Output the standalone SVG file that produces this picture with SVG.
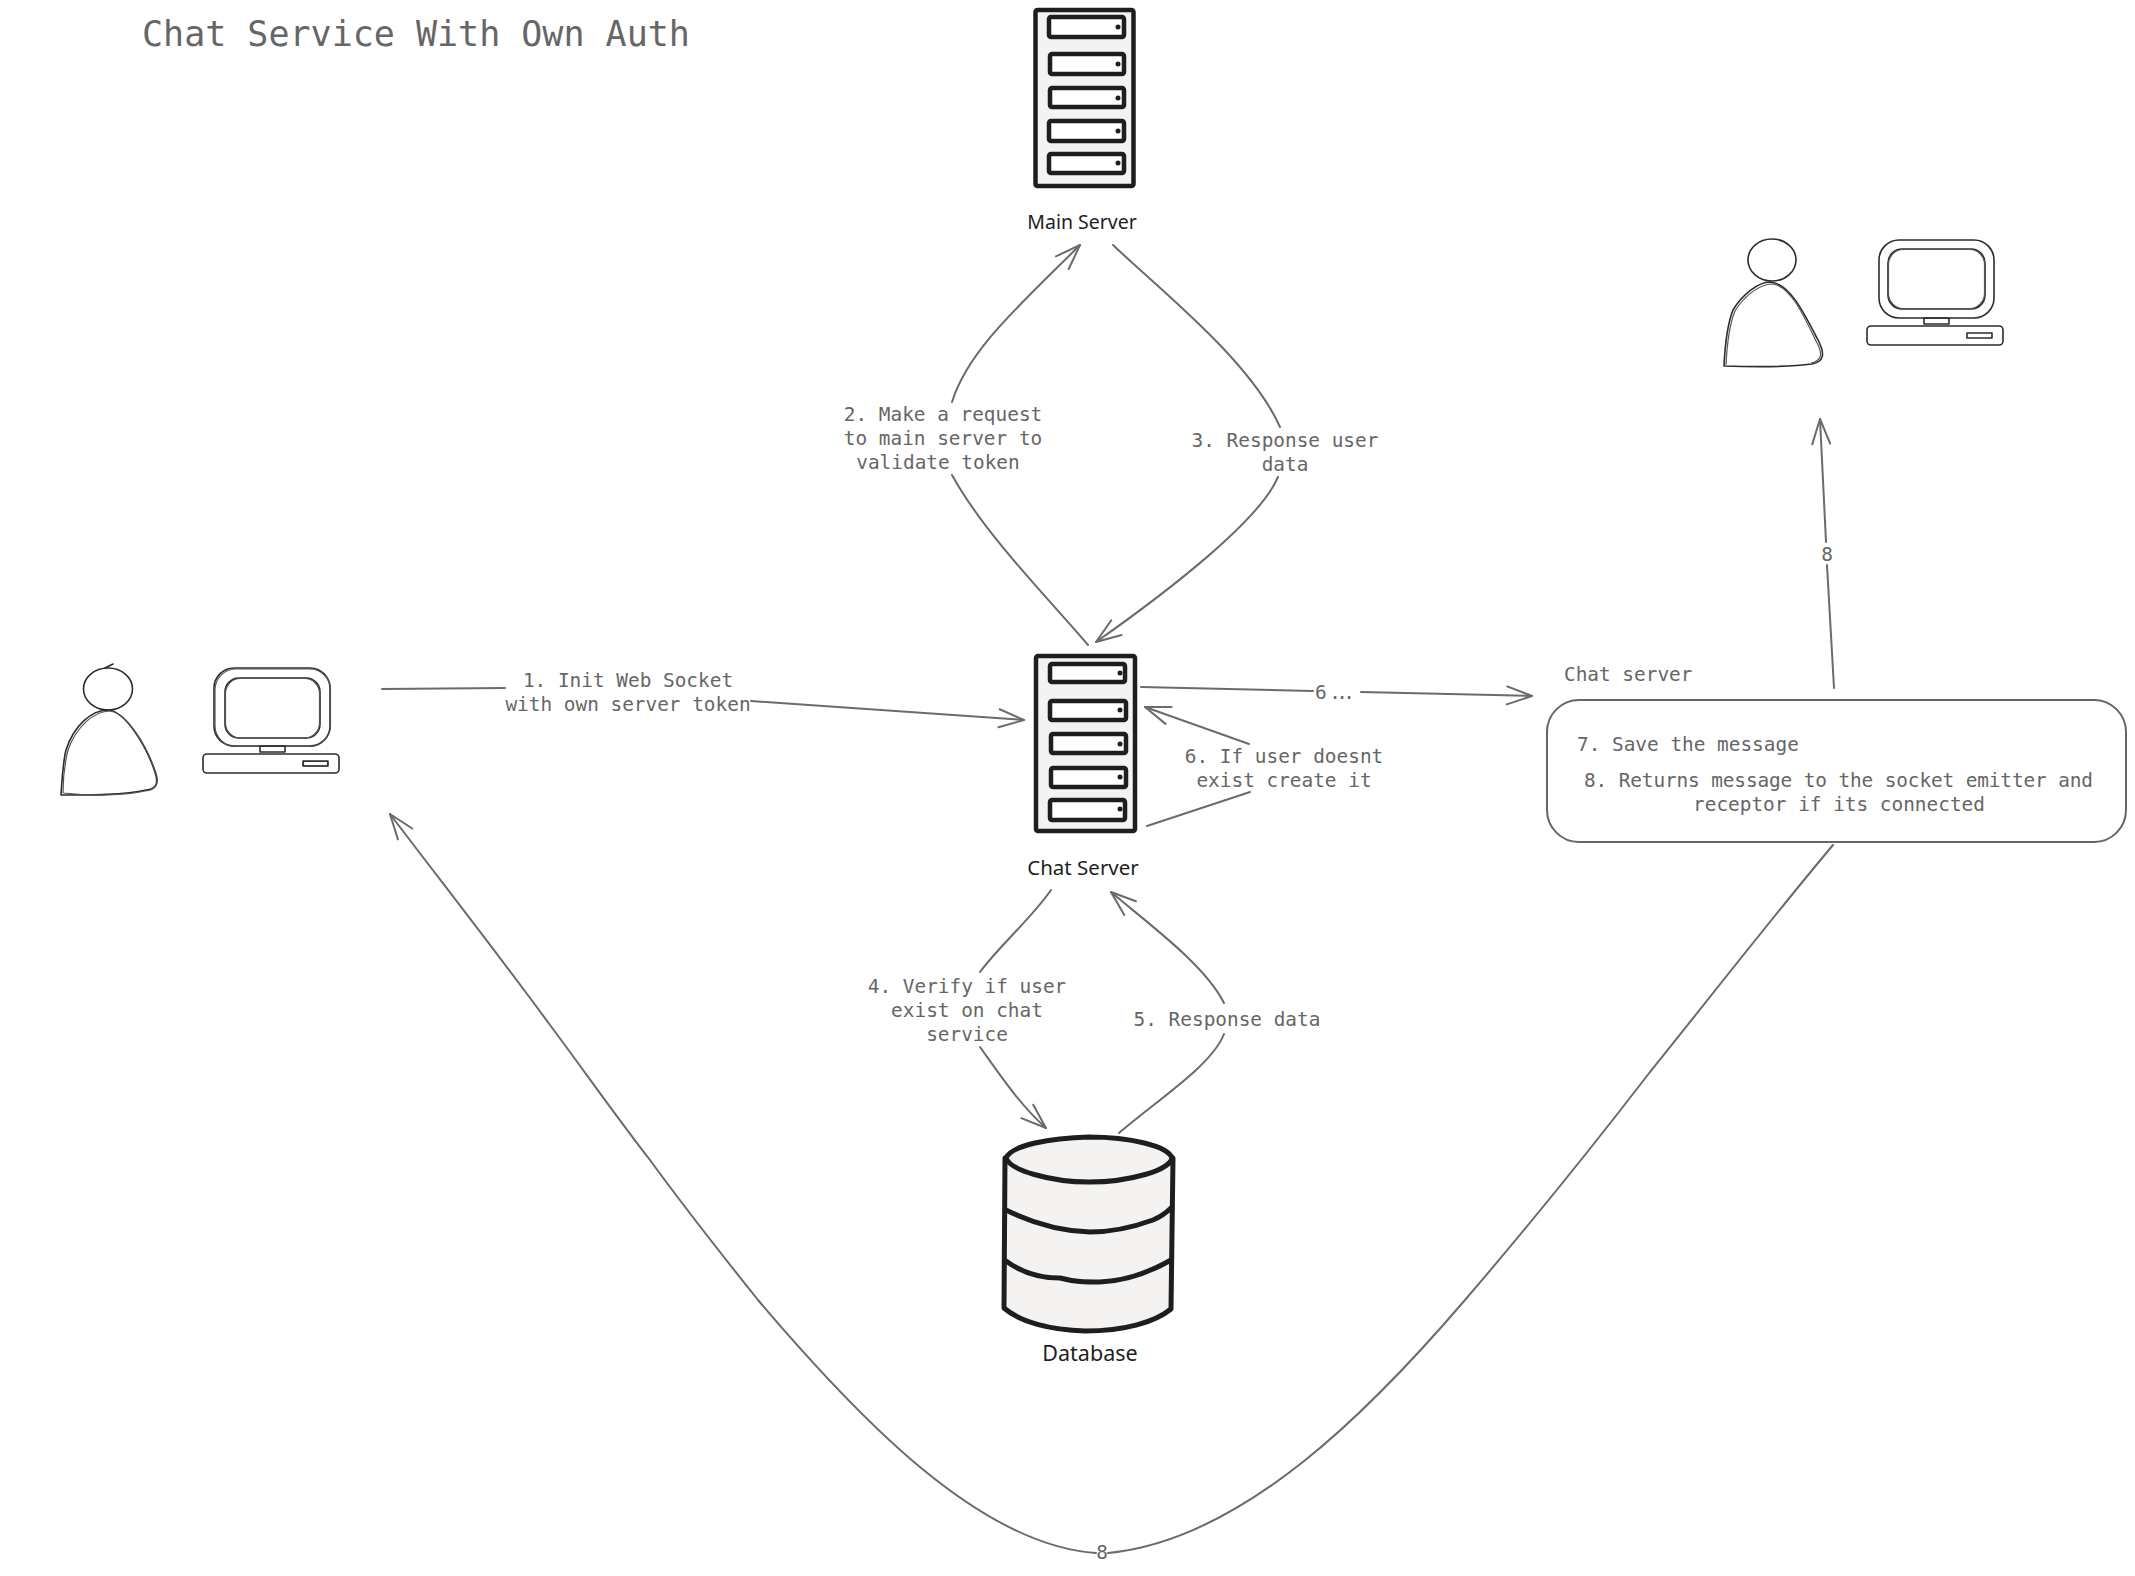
<svg xmlns="http://www.w3.org/2000/svg" width="2135" height="1576" viewBox="0 0 2135 1576">
<style>
.bg{fill:#fff}
.t{font-family:"DejaVu Sans Mono","Liberation Mono",monospace;font-size:19.4px;fill:#666;text-anchor:middle}
.tl{text-anchor:start}
.title{font-family:"DejaVu Sans Mono","Liberation Mono",monospace;font-size:35px;fill:#666}
.h{font-family:"Noto Sans","Liberation Sans",sans-serif;font-size:20.5px;fill:#1e1e1e;text-anchor:middle}
.c{fill:none;stroke:#6b6b6b;stroke-width:2;stroke-linecap:round}
.a{marker-end:url(#arr)}
.box{fill:none;stroke:#666;stroke-width:2}
.srv{fill:#f4f3f2;stroke:#1e1e1e;stroke-width:4.5;stroke-linejoin:round}
.slot{fill:#fff;stroke:#1e1e1e;stroke-width:4.5;stroke-linejoin:round}
.dot{fill:#1e1e1e}
.db{fill:#f4f3f2;stroke:#1e1e1e;stroke-width:5;stroke-linejoin:round}
.dbl{fill:none;stroke:#1e1e1e;stroke-width:5;stroke-linecap:round}
.s{fill:none;stroke:#2c2c2c;stroke-width:1.6;stroke-linejoin:round;stroke-linecap:round}
.s2{fill:none;stroke:#555;stroke-width:1.2;stroke-linejoin:round}
</style>
<defs>
<marker id="arr" markerUnits="userSpaceOnUse" markerWidth="34" markerHeight="34" refX="30" refY="17" orient="auto" overflow="visible">
<path d="M5 8 L30 17 L5 26" fill="none" stroke="#6b6b6b" stroke-width="2" stroke-linecap="round" stroke-linejoin="round"/>
</marker>
</defs>
<rect class="bg" width="2135" height="1576"/>
<text id="title" class="title" x="142" y="46">Chat Service With Own Auth</text>

<g id="connectors">
<path class="c" d="M382 689 L505 688"/>
<path class="c a" d="M751 701 L1024 720"/>
<path class="c" d="M1088 645 C1050 600 985 535 952 475"/>
<path class="c a" d="M952 402 C968 350 1020 305 1080 245"/>
<path class="c" d="M1113 245 C1160 290 1250 360 1280 427"/>
<path class="c a" d="M1278 477 C1260 520 1170 590 1096 642"/>
<path class="c" d="M1141 687 L1313 691"/>
<path class="c a" d="M1361 692 L1532 696"/>
<path class="c" d="M1147 826 L1250 792"/>
<path class="c a" d="M1249 744 L1145 707"/>
<path class="c" d="M1051 890 C1030 920 1000 945 980 972"/>
<path class="c a" d="M980 1047 C1000 1075 1020 1105 1046 1128"/>
<path class="c" d="M1119 1133 C1160 1098 1212 1065 1224 1034"/>
<path class="c a" d="M1224 1003 C1205 965 1150 925 1111 892"/>
<path class="c" d="M1834 688 L1827 565"/>
<path class="c a" d="M1826 542 L1820 419"/>
<path class="c" d="M1833 845 C1770 920 1700 1010 1650 1072 C1590 1150 1525 1230 1465 1300 C1375 1405 1245 1540 1108 1553"/>
<path class="c a" d="M1096 1553 C980 1545 860 1420 758 1300 C722 1255 690 1215 650 1160 C615 1115 580 1065 550 1025 C495 950 440 880 390 814"/>
</g>

<g id="labels">
<text class="t" x="628" y="687">1. Init Web Socket</text>
<text class="t" x="628" y="711">with own server token</text>
<text class="t" x="943" y="421">2. Make a request</text>
<text class="t" x="943" y="445">to main server to</text>
<text class="t" x="938" y="469">validate token</text>
<text class="t" x="1285" y="447">3. Response user</text>
<text class="t" x="1285" y="471">data</text>
<text class="t tl" x="1315" y="699" textLength="40">6 ...</text>
<text class="t" x="1284" y="763">6. If user doesnt</text>
<text class="t" x="1284" y="787">exist create it</text>
<text class="t" x="967" y="993">4. Verify if user</text>
<text class="t" x="967" y="1017">exist on chat</text>
<text class="t" x="967" y="1041">service</text>
<text class="t" x="1227" y="1026">5. Response data</text>
<text class="t" x="1827" y="561">8</text>
<text class="t" x="1102" y="1559">8</text>
</g>

<g id="main-server">
<rect class="srv" x="1035.5" y="10" width="98" height="176" rx="2"/>
<rect class="slot" x="1049" y="17" width="75" height="20" rx="2"/>
<rect class="slot" x="1050" y="54" width="74" height="20" rx="2"/>
<rect class="slot" x="1050" y="88" width="74" height="19" rx="2"/>
<rect class="slot" x="1049" y="121" width="75" height="20" rx="2"/>
<rect class="slot" x="1049" y="154" width="75" height="19" rx="2"/>
<circle class="dot" cx="1118" cy="27" r="2.5"/><circle class="dot" cx="1118" cy="64" r="2.5"/><circle class="dot" cx="1118" cy="98" r="2.5"/><circle class="dot" cx="1118" cy="131" r="2.5"/><circle class="dot" cx="1118" cy="163" r="2.5"/>
<text class="h" x="1082" y="229" style="font-size:19.500px">Main Server</text>
</g>

<g id="chat-server">
<rect class="srv" x="1036" y="656" width="99" height="175" rx="2"/>
<rect class="slot" x="1050" y="664" width="75" height="18" rx="2"/>
<rect class="slot" x="1050" y="701" width="76" height="19" rx="2"/>
<rect class="slot" x="1051" y="734" width="75" height="19" rx="2"/>
<rect class="slot" x="1051" y="768" width="75" height="19" rx="2"/>
<rect class="slot" x="1050" y="800" width="75" height="20" rx="2"/>
<circle class="dot" cx="1120" cy="673" r="2.5"/><circle class="dot" cx="1120" cy="710" r="2.5"/><circle class="dot" cx="1120" cy="744" r="2.5"/><circle class="dot" cx="1120" cy="777" r="2.5"/><circle class="dot" cx="1120" cy="809" r="2.5"/>
<text class="h" x="1083" y="875">Chat Server</text>
</g>

<g id="database">
<path class="db" d="M1005 1158 L1004 1308 C1020 1322 1050 1330 1085 1331 C1125 1331 1155 1322 1171 1309 L1173 1158 Z"/>
<path class="db" d="M1006 1158 C1012 1145 1050 1138 1089 1137 C1130 1137 1168 1146 1172 1158 C1170 1170 1130 1182 1089 1182 C1050 1182 1010 1170 1006 1158 Z"/>
<path class="dbl" d="M1006 1210 C1030 1222 1060 1231 1090 1232 C1120 1232 1142 1224 1153 1220 C1160 1217 1165 1214 1171 1208"/>
<path class="dbl" d="M1006 1261 C1025 1275 1045 1278 1060 1278 C1075 1282 1085 1282 1100 1282 C1125 1281 1150 1272 1171 1260"/>
<text class="h" x="1090" y="1361" style="font-size:21.5px">Database</text>
</g>

<g id="user-left">
<ellipse class="s" cx="108" cy="689" rx="24.5" ry="21"/>
<path class="s" d="M105 668 L113 664"/>
<path class="s" d="M61 795 C62 780 63 762 66 750 C74 725 92 710 108 710 C125 711 146 745 155 772 C159 784 156 789 146 790 C125 795 90 795 61 795 Z"/>
<path class="s2" d="M63 793 C63 775 65 762 68 750 C76 727 94 711 110 711 C127 713 147 746 156 773 C160 785 155 790 145 791 C125 796 90 796 63 793"/>
</g>
<g id="computer-left">
<rect class="s" x="214" y="668" width="116" height="78" rx="20"/>
<rect class="s2" x="215" y="669" width="115.500" height="77.500" rx="21"/>
<rect class="s" x="225" y="678" width="95" height="60" rx="14"/>
<rect class="s2" x="225.500" y="678.500" width="94" height="59.500" rx="15"/>
<rect class="s" x="260" y="746" width="25" height="6"/>
<rect class="s" x="203" y="754" width="136" height="19" rx="4"/>
<rect class="s2" x="303.500" y="761.500" width="24" height="4.500"/>
<rect class="s" x="303" y="761" width="25" height="5"/>
</g>

<g id="user-right">
<ellipse class="s" cx="1772" cy="260" rx="24" ry="21"/>
<path class="s" d="M1724 366 C1725 345 1727 325 1733 310 C1742 295 1758 282 1770 282 C1790 283 1805 315 1818 340 C1826 355 1823 362 1812 364 C1790 367 1755 367 1724 366 Z"/>
<path class="s2" d="M1726 365 C1727 345 1729 325 1735 311 C1744 296 1760 284 1772 284 C1790 285 1804 316 1816 341 C1824 355 1821 361 1811 363"/>
</g>
<g id="computer-right">
<rect class="s" x="1879" y="240" width="115" height="78" rx="20"/>
<rect class="s" x="1888" y="249" width="97" height="60" rx="14"/>
<rect class="s2" x="1888.500" y="249.500" width="96" height="59" rx="15"/>
<rect class="s" x="1924" y="318" width="25" height="6"/>
<rect class="s" x="1867" y="326" width="136" height="19" rx="4"/>
<rect class="s" x="1967" y="333" width="25" height="5"/>
</g>

<g id="chat-server-box">
<rect class="box" x="1547" y="700" width="579" height="142" rx="32"/>
<text class="t tl" x="1564" y="681">Chat server</text>
<text class="t tl" x="1577" y="751">7. Save the message</text>
<text class="t" x="1838.500" y="787" textLength="509">8. Returns message to the socket emitter and</text>
<text class="t" x="1839" y="811">receptor if its connected</text>
</g>
</svg>
